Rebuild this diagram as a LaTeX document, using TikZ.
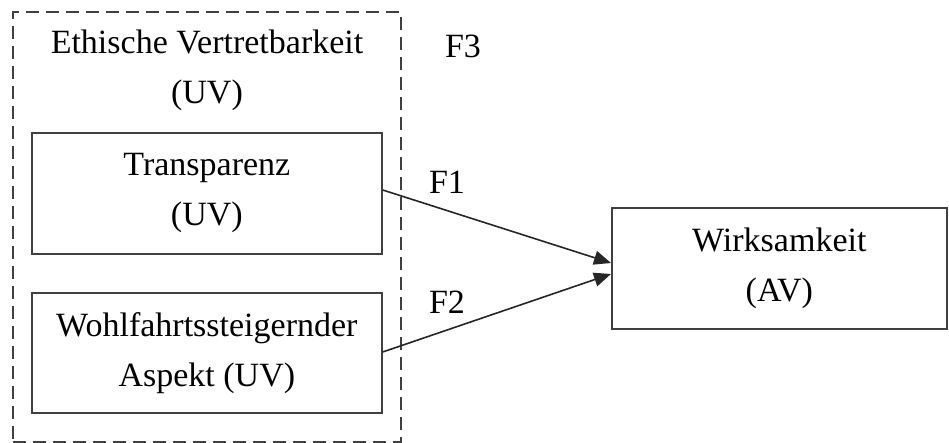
\documentclass[tikz,border=0pt]{standalone}
\usepackage{fontspec}
\setmainfont{Liberation Serif}
\usetikzlibrary{arrows.meta}
\begin{document}
\begin{tikzpicture}[x=1pt,y=-1pt,
  box/.style={draw=black!75, line width=1.7pt, rectangle, align=center, inner sep=0pt},
  lbl/.style={inner sep=0pt, align=center},
  conn/.style={draw=black!85, line width=1.6pt, -{Triangle[length=17pt,width=14pt]}},
  every node/.style={font=\fontsize{34}{50}\selectfont}]
\useasboundingbox (0,0) rectangle (949,443);
\node[draw=black!75, line width=1.6pt, dash pattern=on 13pt off 7pt, minimum width=388pt, minimum height=430pt, inner sep=0pt, anchor=north west] (group) at (12,11) {};
\node[lbl] (ethik) at (207,70) {Ethische Vertretbarkeit\\(UV)};
\node[box, minimum width=350pt, minimum height=121pt, anchor=north west] (transp) at (31,132) {};
\node[lbl] (transpt) at (transp.center) {Transparenz\\(UV)};
\node[box, minimum width=350pt, minimum height=120pt, anchor=north west] (wohl) at (31,292) {};
\node[lbl] (wohlt) at (wohl.center) {Wohlfahrtssteigernder\\Aspekt (UV)};
\node[box, minimum width=335pt, minimum height=121pt, anchor=north west] (wirk) at (611,207) {};
\node[lbl] (wirkt) at (wirk.center) {Wirksamkeit\\(AV)};
\node[lbl] (f3) at (463,46) {F3};
\node[lbl] (f1) at (447,182) {F1};
\node[lbl] (f2) at (447,302) {F2};
\coordinate (t1) at (611,263);
\coordinate (t2) at (611,274);
\draw[conn] (transp.east |- 0,190) -- (t1);
\draw[conn] (wohl.east |- 0,352) -- (t2);
\end{tikzpicture}
\end{document}
